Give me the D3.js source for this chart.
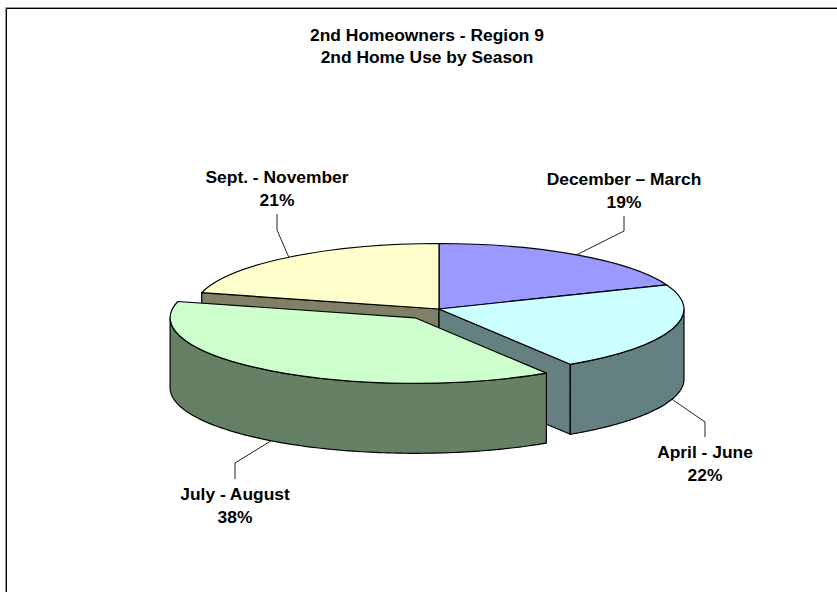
<!DOCTYPE html>
<html>
<head>
<meta charset="utf-8">
<script src="https://cdn.jsdelivr.net/npm/d3@7/dist/d3.min.js"></script>
<style>
html,body{margin:0;padding:0;background:#fff}
svg{display:block}
text{font-family:"Liberation Sans",Arial,sans-serif;font-weight:bold;font-size:17.4px;fill:#000;text-anchor:middle}
</style>
</head>
<body>
<script>
// Data
const titleLines = ["2nd Homeowners - Region 9", "2nd Home Use by Season"];
const categories = ["December \u2013 March", "April - June", "July - August", "Sept. - November"];
const shares = [19, 22, 38, 21];
const topColors = ["#9999FF", "#CCFFFF", "#CCFFCC", "#FFFFCC"];
const wallColors = ["#666699", "#658080", "#668066", "#808066"];

// Layout
const W = 837, H = 592;
const cx = 439, cy = 309, rx = 245, ry = 65.5, depth = 70, explode = 0.166;
const explodedIndex = 2;
const labelX = [624, 705, 235, 277];
const labelBase = [185, 458, 500, 183];
const elbowY = [231, 422, 463, 230];
const stemEndY = [216, 437, 479, 214];

const svg = d3.select("body").append("svg").attr("width", W).attr("height", H);

// Frame (open to the right and bottom of the picture)
svg.append("path").attr("d", `M${W},7.5H5.5V${H}`).attr("fill", "none").attr("stroke", "#999").attr("stroke-width", 1);
svg.append("path").attr("d", `M${W},8.5H6.5V${H}`).attr("fill", "none").attr("stroke", "#000").attr("stroke-width", 1);

// Title
svg.selectAll("text.title").data(titleLines).join("text").attr("class", "title")
  .attr("x", 427).attr("y", (d, i) => 41 + i * 22).text(d => d);

const slices = d3.pie().sort(null).value(d => d)(shares);

const offset = (s, i) => {
  if (i !== explodedIndex) return [0, 0];
  const m = (s.startAngle + s.endAngle) / 2;
  return [Math.sin(m) * rx * explode, -Math.cos(m) * ry * explode];
};
const rim = (a, o) => [cx + o[0] + rx * Math.sin(a), cy + o[1] - ry * Math.cos(a)];

const arcGen = d3.arc().innerRadius(0).outerRadius(rx);
const line = d3.line();
const wallArea = d3.area().x(d => d[0]).y0(d => d[1]).y1(d => d[1] + depth);

const strokeIt = sel => sel.attr("stroke", "#000").attr("stroke-width", 1.2).attr("stroke-linejoin", "round");

function cutWall(g, a, o, fill) {
  const p = rim(a, o), c = [cx + o[0], cy + o[1]];
  g.append("path").attr("d", line([c, p, [p[0], p[1] + depth], [c[0], c[1] + depth]]) + "Z")
    .attr("fill", fill).call(strokeIt);
}
function rimWall(g, s, o, fill) {
  const a0 = Math.max(s.startAngle, Math.PI / 2), a1 = Math.min(s.endAngle, 3 * Math.PI / 2);
  if (a1 <= a0) return;
  const pts = d3.range(0, 121).map(k => rim(a0 + (a1 - a0) * k / 120, o));
  g.append("path").attr("d", wallArea(pts)).attr("fill", fill).call(strokeIt);
}
function topFace(g, s, o, fill) {
  g.append("g").attr("transform", `translate(${cx + o[0]},${cy + o[1]}) scale(1,${ry / rx})`)
    .append("path").attr("d", arcGen(s)).attr("fill", fill)
    .attr("vector-effect", "non-scaling-stroke").call(strokeIt);
}

const pieG = svg.append("g");
const noOffset = [0, 0];

// Cut faces turned to the viewer, then the rim walls and tops of the pie body
cutWall(pieG, slices[3].startAngle, noOffset, wallColors[3]);
cutWall(pieG, slices[1].endAngle, noOffset, wallColors[1]);
slices.forEach((s, i) => { if (i !== explodedIndex) rimWall(pieG, s, noOffset, wallColors[i]); });
slices.forEach((s, i) => { if (i !== explodedIndex) topFace(pieG, s, noOffset, topColors[i]); });

// Exploded slice
const ex = slices[explodedIndex], exO = offset(ex, explodedIndex);
rimWall(pieG, ex, exO, wallColors[explodedIndex]);
topFace(pieG, ex, exO, topColors[explodedIndex]);

// Leader lines and labels
slices.forEach((s, i) => {
  const m = (s.startAngle + s.endAngle) / 2;
  const o = offset(s, i);
  const p = rim(m, o);
  const front = Math.cos(m) < 0;
  const start = [p[0], p[1] + (front ? depth : 0)];
  svg.append("path")
    .attr("d", line([start, [labelX[i], elbowY[i]], [labelX[i], stemEndY[i]]]))
    .attr("fill", "none").attr("stroke", "#222").attr("stroke-width", 1);
  svg.append("text").attr("x", labelX[i]).attr("y", labelBase[i]).text(categories[i]);
  svg.append("text").attr("x", labelX[i]).attr("y", labelBase[i] + 23).text(shares[i] + "%");
});
</script>
</body>
</html>
